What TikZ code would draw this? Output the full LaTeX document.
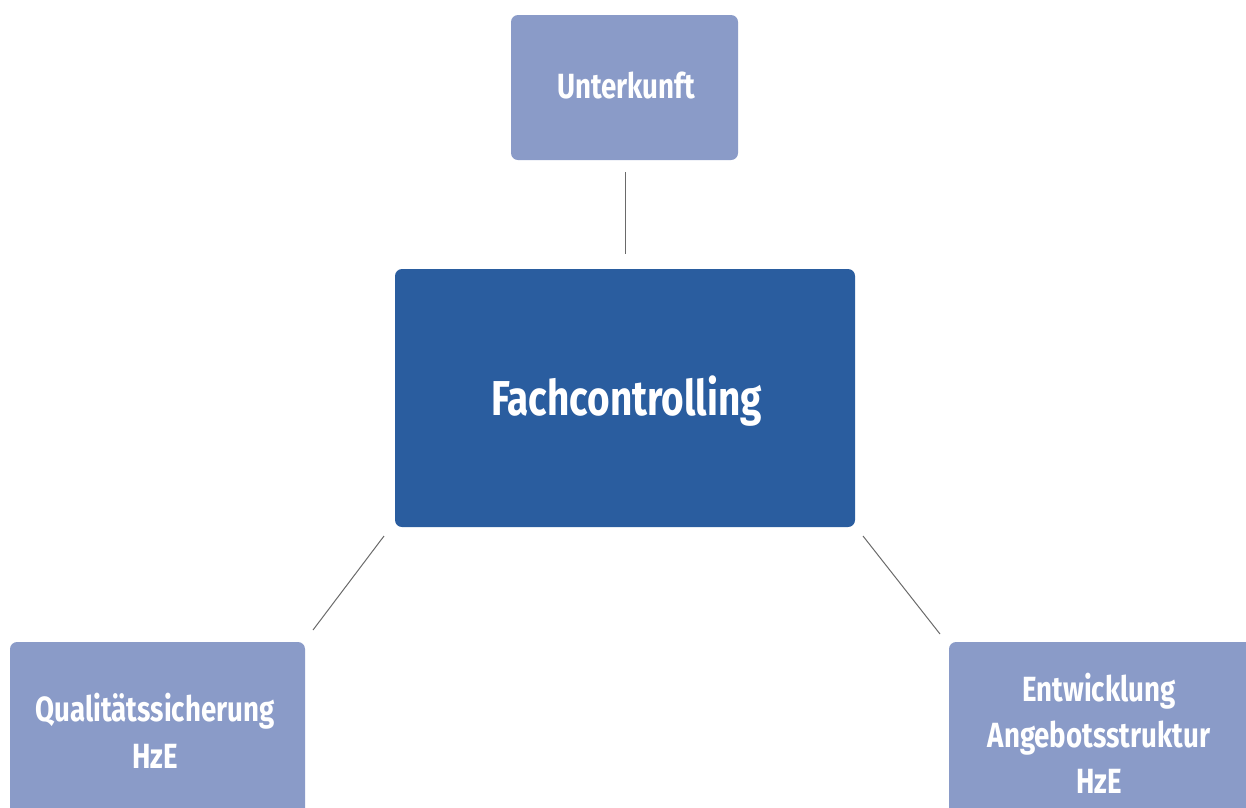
\documentclass[tikz,border=0pt]{standalone}
\usepackage{fontspec}
\setmainfont{Fira Sans}[FakeStretch=0.79]
\definecolor{lightbox}{HTML}{8A9BC8}
\definecolor{darkbox}{HTML}{2A5D9F}
\definecolor{linkgray}{HTML}{6A6A6A}
\tikzset{
  box/.style={rounded corners=7pt, inner sep=0pt, text=white, font=\bfseries, align=center},
  smallbox/.style={box, fill=lightbox},
  bigbox/.style={box, fill=darkbox},
  link/.style={draw=linkgray, line width=1pt}
}
\begin{document}
\begin{tikzpicture}[x=1pt,y=-1pt]
\useasboundingbox (0,0) rectangle (1246,807);
\begin{scope}
\clip (0,0) rectangle (1246,807);
\path[smallbox] (511,15) rectangle (738,160);
\path[bigbox] (395,269) rectangle (855,527);
\path[smallbox] (10,642) rectangle (305,822);
\path[smallbox] (949,642) rectangle (1254,825);
\end{scope}
\node[box, font=\bfseries\fontsize{35}{46}\selectfont] (unt) at (626,86) {Unterkunft};
\node[box, font=\bfseries\fontsize{49}{54}\selectfont] (fach) at (626.5,401) {Fachcontrolling};
\node[box, font=\bfseries\fontsize{35}{47}\selectfont] (qual) at (155,731) {Qualitätssicherung\\HzE};
\node[box, font=\bfseries\fontsize{35}{46}\selectfont] (entw) at (1099,733) {Entwicklung\\Angebotsstruktur\\HzE};
\coordinate (u1) at (625,172);
\coordinate (u2) at (625,254);
\coordinate (l1) at (384,536);
\coordinate (l2) at (313,630);
\coordinate (r1) at (863,536);
\coordinate (r2) at (940,634);
\draw[link] (u1) -- (u2);
\draw[link] (l1) -- (l2);
\draw[link] (r1) -- (r2);
\end{tikzpicture}
\end{document}
